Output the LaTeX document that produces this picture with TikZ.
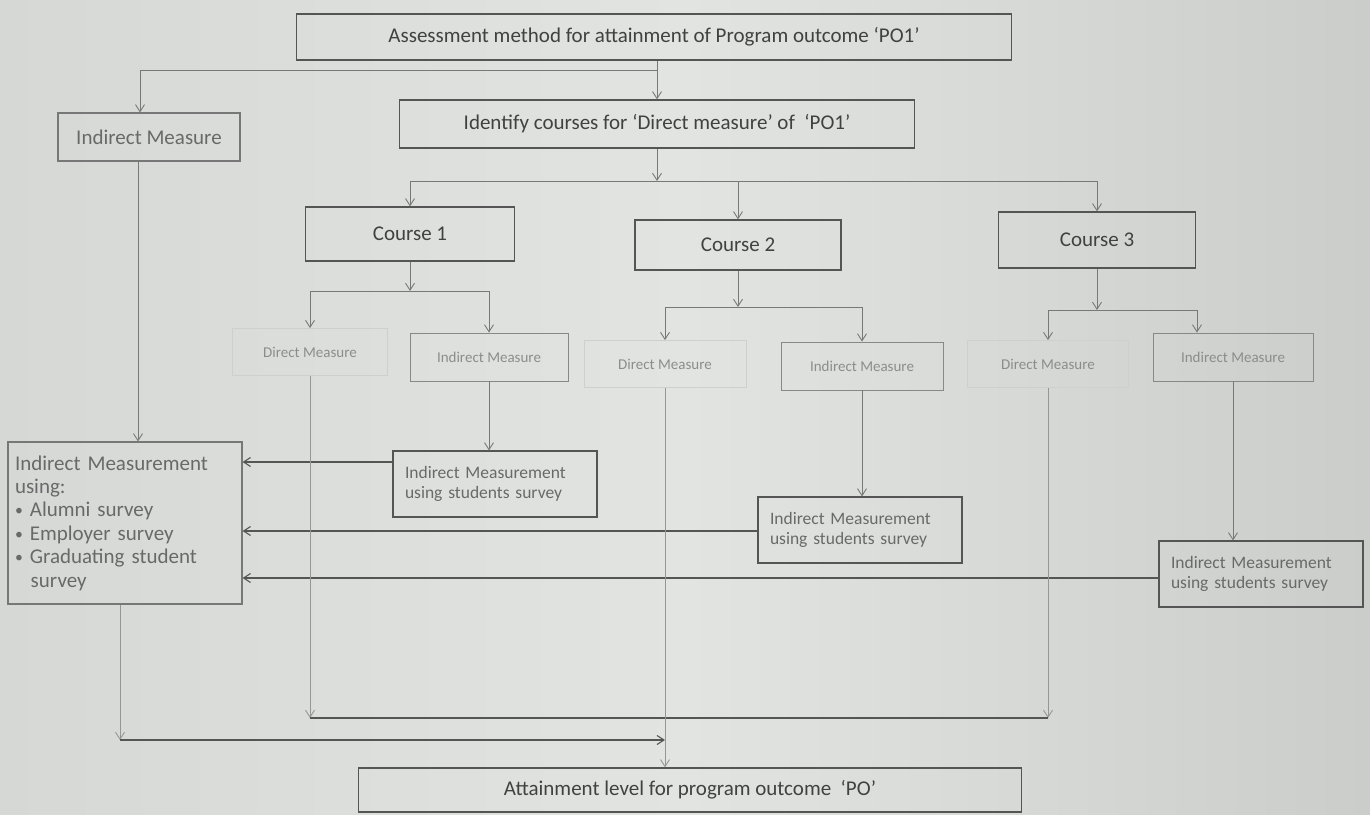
\documentclass[tikz,border=0pt]{standalone}
\usepackage{fontspec}
\setmainfont{Carlito}
\usetikzlibrary{arrows.meta,calc}
\definecolor{bgL}{RGB}{214,216,214}
\definecolor{bgM}{RGB}{226,228,226}
\definecolor{bgR}{RGB}{203,205,203}
\definecolor{boxline}{RGB}{85,85,85}
\definecolor{conline}{RGB}{120,120,120}
\definecolor{lightline}{RGB}{150,150,150}
\definecolor{maintext}{RGB}{65,65,65}
\definecolor{graytext}{RGB}{105,105,105}
\definecolor{pale}{RGB}{195,195,195}
\definecolor{paletext}{RGB}{140,140,140}
\newcommand{\smallbullet}{\raisebox{0.12ex}{\scalebox{0.75}{•}}}
\begin{document}
\begin{tikzpicture}[x=1pt,y=-1pt,
  mainbox/.style={draw=boxline, line width=1.3pt, text=maintext, inner sep=0pt,
    font=\fontsize{21}{25}\selectfont},
  sidebox/.style={draw=boxline!80, line width=1.1pt, text=graytext, inner sep=0pt,
    font=\fontsize{21}{23.4}\selectfont},
  dmbox/.style={draw=pale!80, line width=0.8pt, text=paletext, inner sep=0pt,
    font=\fontsize{15}{17}\selectfont, minimum width=155, minimum height=47},
  imbox/.style={draw=pale!70!black, line width=0.9pt, text=paletext, inner sep=0pt,
    font=\fontsize{15}{17}\selectfont, minimum width=158, minimum height=48},
  survbox/.style={draw=boxline, line width=1.1pt, text=graytext, inner xsep=12pt,
    align=left, font=\fontsize{17.5}{20}\selectfont, text width=180, minimum height=66},
  arr/.style={draw=conline, line width=0.9pt, -{Straight Barb[length=7pt,width=9pt]}},
  ln/.style={draw=conline, line width=0.9pt},
  darr/.style={draw=boxline, line width=1.1pt, -{Straight Barb[length=7pt,width=9pt]}},
  dln/.style={draw=boxline, line width=1.1pt}]
\useasboundingbox (0,0) rectangle (1370,814);
\shade[left color=bgL, right color=bgR, middle color=bgM] (0,0) rectangle (1370,814);

% nodes
\node[mainbox, minimum width=715, minimum height=46] (top) at (654,37)
  {Assessment method for attainment of Program outcome ‘PO1’};
\node[mainbox, minimum width=515, minimum height=48] (ident) at (657,124)
  {Identify courses for ‘Direct measure’ of \ ‘PO1’};
\node[sidebox, minimum width=182, minimum height=48] (ind0) at (149,137) {Indirect Measure};
\node[mainbox, minimum width=209, minimum height=54] (c1) at (410,234) {Course 1};
\node[mainbox, minimum width=206, minimum height=50] (c2) at (738,245) {Course 2};
\node[mainbox, minimum width=197, minimum height=56] (c3) at (1097,240) {Course 3};
\node[dmbox] (d1) at (310,352) {Direct Measure};
\node[imbox] (i1) at (489,357) {Indirect Measure};
\node[dmbox, minimum width=162] (d2) at (665,364) {Direct Measure};
\node[imbox, minimum width=162] (i2) at (862,366) {Indirect Measure};
\node[dmbox, minimum width=161] (d3) at (1048,364) {Direct Measure};
\node[imbox, minimum width=160] (i3) at (1233,357) {Indirect Measure};
\node[sidebox, minimum width=234, minimum height=162, text width=220, align=left,
  inner xsep=7pt] (big) at (125,523)
  {Indirect Measurement\\ using:\\ \smallbullet\ Alumni survey\\ \smallbullet\ Employer survey\\ \smallbullet\ Graduating student\\ \hspace*{0.75em}survey};
\node[survbox] (s1) at (495,484) {Indirect Measurement\\ using students survey};
\node[survbox] (s2) at (860,530) {Indirect Measurement\\ using students survey};
\node[survbox] (s3) at (1261,574) {Indirect Measurement\\ using students survey};
\node[mainbox, minimum width=663, minimum height=44] (att) at (690,790)
  {Attainment level for program outcome \ ‘PO’};

% top level
\coordinate (j0) at (ident.north |- 0,70);
\draw[arr] (top.south -| ident.north) -- (ident.north);
\draw[arr] (j0) -| ([xshift=-9pt]ind0.north);
% identify to courses
\coordinate (b1) at (ident.south |- 0,181);
\draw[arr] (ident.south) -- (b1);
\draw[ln] (c1.north |- b1) -- (c3.north |- b1);
\draw[arr] (c1.north |- b1) -- (c1.north);
\draw[arr] (c2.north |- b1) -- (c2.north);
\draw[arr] (c3.north |- b1) -- (c3.north);
% course 1
\coordinate (k1) at (c1.south |- 0,291);
\draw[arr] (c1.south) -- (k1);
\draw[arr] (k1) -| (d1.north);
\draw[arr] (k1) -| (i1.north);
% course 2
\coordinate (k2) at (c2.south |- 0,307);
\draw[arr] (c2.south) -- (k2);
\draw[arr] (k2) -| (d2.north);
\draw[arr] (k2) -| (i2.north);
% course 3
\coordinate (k3) at (c3.south |- 0,310);
\draw[arr] (c3.south) -- (k3);
\draw[arr] (k3) -| (d3.north);
\draw[arr] (k3) -| ([xshift=-36pt]i3.north);
% indirect to surveys
\draw[arr] ([xshift=-11pt]ind0.south) -- ([xshift=-11pt]ind0.south |- big.north);
\draw[arr] (i1.south) -- (i1.south |- s1.north);
\draw[arr] (i2.south) -- (i2.south |- s2.north);
\draw[arr] (i3.south) -- (i3.south |- s3.north);
\draw[darr] (s1.west |- 0,462) -- (big.east |- 0,462);
\draw[darr] (s2.west |- 0,531) -- (big.east |- 0,531);
\draw[darr] (s3.west |- 0,578) -- (big.east |- 0,578);
% direct measures to bottom
\coordinate (m1) at (d1.south |- 0,718);
\coordinate (m3) at (d3.south |- 0,718);
\draw[arr, draw=lightline] (d1.south) -- (m1);
\draw[arr, draw=lightline] (d3.south) -- (m3);
\draw[dln] (m1) -- (m3);
\draw[arr, draw=lightline] (d2.south) -- (d2.south |- att.north);
% big box to bottom
\coordinate (m0) at ([xshift=-5pt]big.south |- 0,740);
\draw[arr, draw=lightline] ([xshift=-5pt]big.south) -- (m0);
\draw[darr] (m0) -- (d2.south |- m0);
\end{tikzpicture}
\end{document}
